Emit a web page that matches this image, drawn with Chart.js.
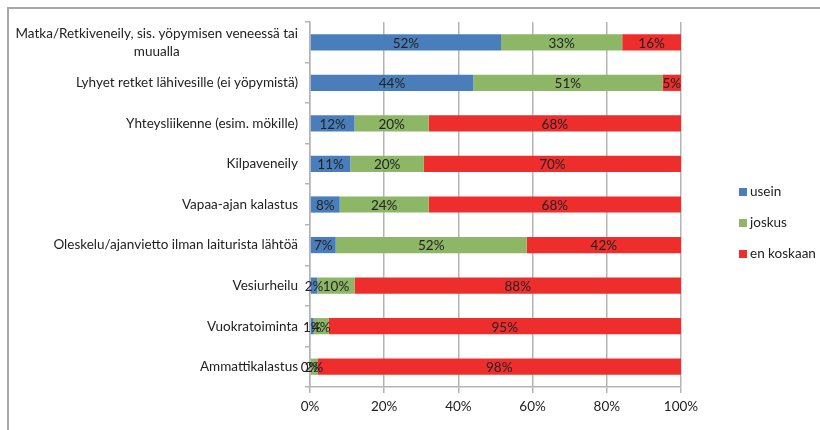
<!DOCTYPE html>
<html lang="fi">
<head>
    <meta charset="UTF-8">
    <title>Veneily</title>
    <script src="https://cdn.jsdelivr.net/npm/chart.js"></script>
    <style>
        body {
            margin: 0;
            background: #fff;
            font-family: Lato, sans-serif;
        }
        .wrap {
            position: relative;
            width: 820px;
            height: 430px;
        }
        .frame {
            position: absolute;
            left: 7px;
            top: 7px;
            right: 0;
            bottom: 0;
            border-top: 2px solid #a8a8a8;
            border-left: 2px solid #a8a8a8;
        }
        .legend {
            position: absolute;
            left: 739px;
            top: 182px;
            font-size: 13.5px;
            color: #222;
        }
        .legend div {
            height: 31px;
            line-height: 18px;
        }
        .legend span {
            display: inline-block;
            width: 8px;
            height: 8px;
            margin-right: 3px;
        }
    </style>
</head>
<body>
    <div class="wrap">
        <div class="frame"></div>
        <canvas id="chart"></canvas>
        <div class="legend">
            <div><span style="background:#4a7ebb"></span>usein</div>
            <div><span style="background:#8db766"></span>joskus</div>
            <div><span style="background:#ee2d2d"></span>en koskaan</div>
        </div>
    </div>

    <script>
        const categories = [
            ['Matka/Retkiveneily, sis. yöpymisen veneessä tai', 'muualla'],
            'Lyhyet retket lähivesille (ei yöpymistä)',
            'Yhteysliikenne (esim. mökille)',
            'Kilpaveneily',
            'Vapaa-ajan kalastus',
            'Oleskelu/ajanvietto ilman laiturista lähtöä',
            'Vesiurheilu',
            'Vuokratoiminta',
            'Ammattikalastus'
        ];
        const usein = [52, 44, 12, 11, 8, 7, 2, 1, 0];
        const joskus = [33, 51, 20, 20, 24, 52, 10, 4, 2];
        const enKoskaan = [16, 5, 68, 70, 68, 42, 88, 95, 98];
        const xTicks = [0, 20, 40, 60, 80, 100];

        // 100 % pinottu: jokainen rivi skaalataan summaansa
        const totals = usein.map((v, i) => v + joskus[i] + enKoskaan[i]);
        const share = arr => arr.map((v, i) => v / totals[i] * 100);

        const font = 'Lato, sans-serif';

        const yLabels = {
            id: 'yLabels',
            afterDraw(chart) {
                const ctx = chart.ctx;
                const y = chart.scales.y;
                ctx.save();
                ctx.font = '13.5px ' + font;
                ctx.fillStyle = '#222';
                ctx.textBaseline = 'middle';
                categories.forEach((c, i) => {
                    const py = y.getPixelForValue(i);
                    if (Array.isArray(c)) {
                        const w = ctx.measureText(c[0]).width;
                        ctx.textAlign = 'right';
                        ctx.fillText(c[0], 298, py - 9);
                        ctx.textAlign = 'center';
                        ctx.fillText(c[1], 298 - w / 2, py + 9);
                    } else {
                        ctx.textAlign = 'right';
                        ctx.fillText(c, 298, py);
                    }
                });
                ctx.restore();
            }
        };

        const barLabels = {
            id: 'barLabels',
            afterDatasetsDraw(chart) {
                const ctx = chart.ctx;
                ctx.save();
                ctx.font = '13.5px ' + font;
                ctx.fillStyle = '#222';
                ctx.textAlign = 'center';
                ctx.textBaseline = 'middle';
                chart.data.datasets.forEach((ds, di) => {
                    chart.getDatasetMeta(di).data.forEach((bar, i) => {
                        const p = bar.getProps(['x', 'y', 'base'], true);
                        ctx.fillText(ds.raw[i] + '%', (p.x + p.base) / 2, p.y + 1);
                    });
                });
                ctx.restore();
            }
        };

        new Chart(document.getElementById('chart'), {
            type: 'bar',
            data: {
                labels: categories,
                datasets: [
                    { label: 'usein', raw: usein, data: share(usein), backgroundColor: '#4a7ebb' },
                    { label: 'joskus', raw: joskus, data: share(joskus), backgroundColor: '#8db766' },
                    { label: 'en koskaan', raw: enKoskaan, data: share(enKoskaan), backgroundColor: '#ee2d2d' }
                ]
            },
            options: {
                indexAxis: 'y',
                responsive: true,
                maintainAspectRatio: false,
                animation: false,
                layout: { padding: { top: 22, right: 139, bottom: 0, left: 0 } },
                categoryPercentage: 1,
                barPercentage: 0.4,
                plugins: {
                    legend: { display: false },
                    tooltip: { enabled: false }
                },
                scales: {
                    x: {
                        stacked: true,
                        min: 0,
                        max: 100,
                        afterFit: s => { s.height = 43; },
                        ticks: {
                            stepSize: 20,
                            padding: 6,
                            color: '#222',
                            font: { family: font, size: 13.5 },
                            callback: v => xTicks.includes(v) ? v + '%' : ''
                        },
                        grid: { color: '#b4b4b4', lineWidth: 1.5, tickLength: 6 },
                        border: { color: '#b4b4b4', width: 1.5 }
                    },
                    y: {
                        stacked: true,
                        afterFit: s => { s.width = 310; },
                        ticks: { display: false },
                        grid: { drawOnChartArea: false, offset: true, tickLength: 5, color: '#b4b4b4', lineWidth: 1.5 },
                        border: { color: '#b4b4b4', width: 1.5 }
                    }
                }
            },
            plugins: [yLabels, barLabels]
        });
    </script>
</body>
</html>
